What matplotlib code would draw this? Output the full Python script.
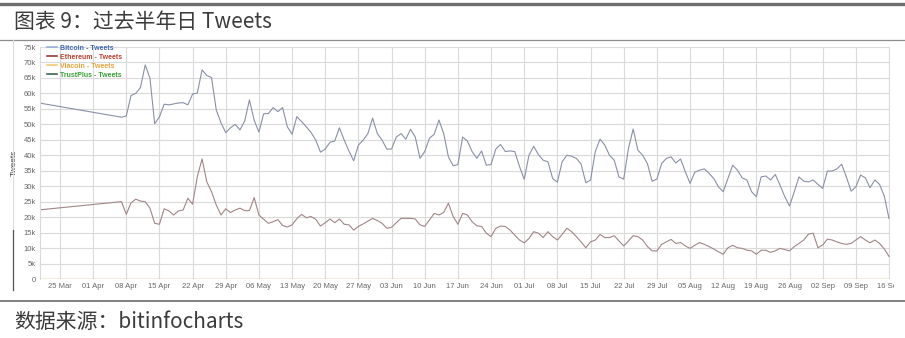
import matplotlib
matplotlib.use("Agg")
import matplotlib.pyplot as plt
from matplotlib.lines import Line2D
from matplotlib.transforms import Bbox, TransformedBbox
import pandas as pd

plt.rcParams['font.family'] = ['Noto Sans CJK SC', 'DejaVu Sans']

# first point before the data gap, then daily values from 07 Apr (thousands of tweets)
gap_start = "2018-03-21"
daily_start = "2018-04-07"
daily_end = "2018-09-16"

btc_first = 56.8
eth_first = 22.4

btc_apr = [52.3, 52.7, 59.3, 60.0, 61.9, 69.2, 64.9, 50.2, 52.4, 56.5, 56.3, 56.6, 56.9, 57.0,
           56.3, 59.8, 60.1, 67.6, 65.8, 65.1, 54.6, 50.5, 47.3, 48.9]
btc_may = [50.0, 48.2, 51.1, 57.9, 51.3, 47.5, 53.4, 53.5, 55.4, 54.1, 55.4, 49.2, 46.8, 52.5,
           50.9, 49.2, 47.4, 44.9, 41.0, 42.0, 44.2, 44.6, 48.9, 44.9, 41.4, 38.2, 43.3, 44.9,
           47.0, 52.0, 47.0]
btc_jun = [44.9, 42.0, 42.0, 45.9, 47.0, 45.2, 48.4, 45.9, 39.0, 41.2, 45.5, 46.8, 51.4, 47.0,
           39.5, 36.6, 37.0, 45.9, 44.6, 41.2, 39.0, 41.4, 36.8, 37.0, 42.0, 43.5, 41.2, 41.4,
           41.2, 36.4]
btc_jul = [32.2, 40.0, 42.9, 40.2, 38.4, 37.9, 32.5, 31.3, 37.9, 40.0, 39.7, 39.0, 37.2, 31.1,
           32.0, 41.2, 45.2, 43.3, 40.0, 38.4, 33.0, 32.3, 42.2, 48.5, 41.6, 40.0, 37.3, 31.6,
           32.3, 37.3, 39.0]
btc_aug = [39.5, 37.5, 38.8, 34.7, 30.9, 34.5, 35.2, 35.6, 34.2, 32.5, 29.8, 28.2, 32.5, 36.8,
           35.2, 32.7, 32.0, 28.2, 26.6, 33.0, 33.3, 32.0, 33.8, 30.3, 26.6, 23.6, 28.2, 33.0,
           31.6, 31.4, 32.0]
btc_sep = [30.6, 29.3, 34.9, 34.9, 35.6, 37.1, 33.0, 28.4, 29.8, 33.6, 32.7, 29.5, 32.0, 30.6,
           26.8, 19.6]

eth_apr = [25.0, 20.9, 24.6, 25.8, 25.2, 25.0, 22.9, 18.0, 17.7, 22.7, 22.0, 20.7, 22.0, 22.3,
           26.1, 24.2, 33.1, 38.8, 31.4, 28.2, 23.9, 20.7, 22.7, 21.5]
eth_may = [22.3, 22.9, 22.1, 22.1, 26.3, 20.7, 19.3, 18.0, 18.5, 19.2, 17.3, 16.8, 17.5, 19.5,
           20.9, 19.8, 20.2, 19.3, 17.1, 18.2, 19.4, 18.2, 19.4, 17.7, 17.5, 15.8, 17.0, 17.8,
           18.7, 19.6, 18.9]
eth_jun = [18.0, 16.4, 16.7, 18.2, 19.6, 19.6, 19.6, 19.4, 17.5, 17.0, 19.1, 21.2, 20.7, 21.5,
           24.5, 20.2, 17.7, 21.2, 20.7, 18.5, 17.2, 17.0, 14.8, 13.7, 16.4, 17.1, 17.0, 15.8,
           14.2, 12.6]
eth_jul = [11.7, 13.1, 15.3, 14.8, 13.4, 15.3, 13.7, 12.6, 14.4, 16.4, 15.3, 13.7, 12.0, 10.1,
           12.0, 12.6, 14.4, 13.4, 13.4, 14.0, 12.3, 10.7, 12.3, 14.0, 13.7, 12.6, 10.5, 9.1,
           9.1, 11.2, 12.0]
eth_aug = [12.8, 11.5, 11.8, 10.7, 9.9, 10.9, 11.8, 11.2, 10.5, 9.7, 8.8, 8.0, 10.1, 10.9,
           10.1, 9.9, 9.3, 9.1, 8.0, 9.3, 9.3, 8.6, 9.1, 9.9, 9.5, 9.1, 10.5, 11.5,
           12.6, 14.5, 14.8]
eth_sep = [10.1, 11.0, 12.9, 12.6, 12.0, 11.5, 11.2, 11.5, 12.6, 13.7, 12.6, 11.7, 12.6, 11.5,
           9.7, 7.3]

legend_labels = ["Bitcoin - Tweets", "Ethereum - Tweets", "Viacoin - Tweets", "TrustPlus - Tweets"]
line_colors = ["#8a91a6", "#a08686", "#f2c566", "#3f7a45"]
legend_line_colors = ["#8fa8d8", "#8b2a22", "#f2c566", "#2f5a3a"]
text_colors = ["#3d64b0", "#b8402c", "#e8a23a", "#35a035"]

dates = [pd.Timestamp(gap_start)] + list(pd.date_range(daily_start, daily_end, freq="D"))
btc = [btc_first] + btc_apr + btc_may + btc_jun + btc_jul + btc_aug + btc_sep
eth = [eth_first] + eth_apr + eth_may + eth_jun + eth_jul + eth_aug + eth_sep
btc = [v * 1000 for v in btc]
eth = [v * 1000 for v in eth]
via = [0.0] * len(dates)
trust = [0.0] * len(dates)

fig = plt.figure(figsize=(9.05, 3.38), dpi=100)
W, H = 905, 338

def fx(px):
    return px / W

def fy(py):
    return 1 - py / H

# frame lines of the page
fig.add_artist(Line2D([0, 1], [fy(3.5), fy(3.5)], color="#6e6e6e", lw=2.4))
fig.add_artist(Line2D([0, 1], [fy(40), fy(40)], color="#8c8c8c", lw=0.9))
fig.add_artist(Line2D([0, 1], [fy(301), fy(301)], color="#6a6a6a", lw=1.2))
fig.add_artist(Line2D([fx(13), fx(13)], [fy(40), fy(230)], color="#dcdcdc", lw=0.8))
fig.add_artist(Line2D([fx(13), fx(13)], [fy(230), fy(290)], color="#555555", lw=0.9))

fig.text(fx(14), fy(22), "图表 9：过去半年日 Tweets", fontsize=15, color="#3c3c3c", va="center")
fig.text(fx(14), fy(322), "数据来源：bitinfocharts", fontsize=15, color="#3c3c3c", va="center")

ax = fig.add_axes([fx(40), fy(279), fx(890) - fx(40), fy(47) - fy(279)])
ax.plot(dates, trust, color=line_colors[3], lw=0.9, alpha=0.4)
ax.plot(dates, via, color=line_colors[2], lw=1.0, alpha=0.8)
ax.plot(dates, eth, color=line_colors[1], lw=0.8)
ax.plot(dates, btc, color=line_colors[0], lw=0.8)

ax.set_ylim(0, 75000)
ax.set_xlim(pd.Timestamp("2018-03-20 19:00"), pd.Timestamp("2018-09-16 05:00"))
ax.set_yticks(range(0, 75001, 5000))
ax.set_yticklabels(["0"] + [f"{k}k" for k in range(5, 76, 5)])
ticks = list(pd.date_range("2018-03-25", "2018-09-16", freq="7D"))
ax.set_xticks(ticks)
ax.set_xticklabels([t.strftime("%d %b") for t in ticks])
ax.tick_params(axis="both", labelsize=5.5, colors="#666666", length=0, pad=3)
for lbl in ax.get_xticklabels() + ax.get_yticklabels():
    lbl.set_family("Liberation Sans")
ax.grid(True, color="#dadada", lw=0.8)
ax.set_axisbelow(True)
for s in ["top", "right", "bottom"]:
    ax.spines[s].set_visible(False)
ax.spines["left"].set_color("#d9d9d9")
ax.set_ylabel("Tweets", fontsize=6, color="#444444", labelpad=4, family="Liberation Sans")

# last tick label is cut off at the chart edge
clip = TransformedBbox(Bbox([[0, 0], [fx(894), 1]]), fig.transFigure)
last = ax.get_xticklabels()[-1]
last.set_clip_box(clip)
last.set_clip_on(True)

handles = [Line2D([], [], color=c, lw=1.1) for c in legend_line_colors]
leg = ax.legend(handles, legend_labels, loc="upper left", bbox_to_anchor=(0.002, 1.03),
                frameon=False, prop={"family": "Liberation Sans", "size": 5.0, "weight": "bold"},
                handlelength=1.5, handletextpad=0.5, labelspacing=0.28, borderaxespad=0.3)
for t, c in zip(leg.get_texts(), text_colors):
    t.set_color(c)

fig.savefig("out.png", dpi=100)
